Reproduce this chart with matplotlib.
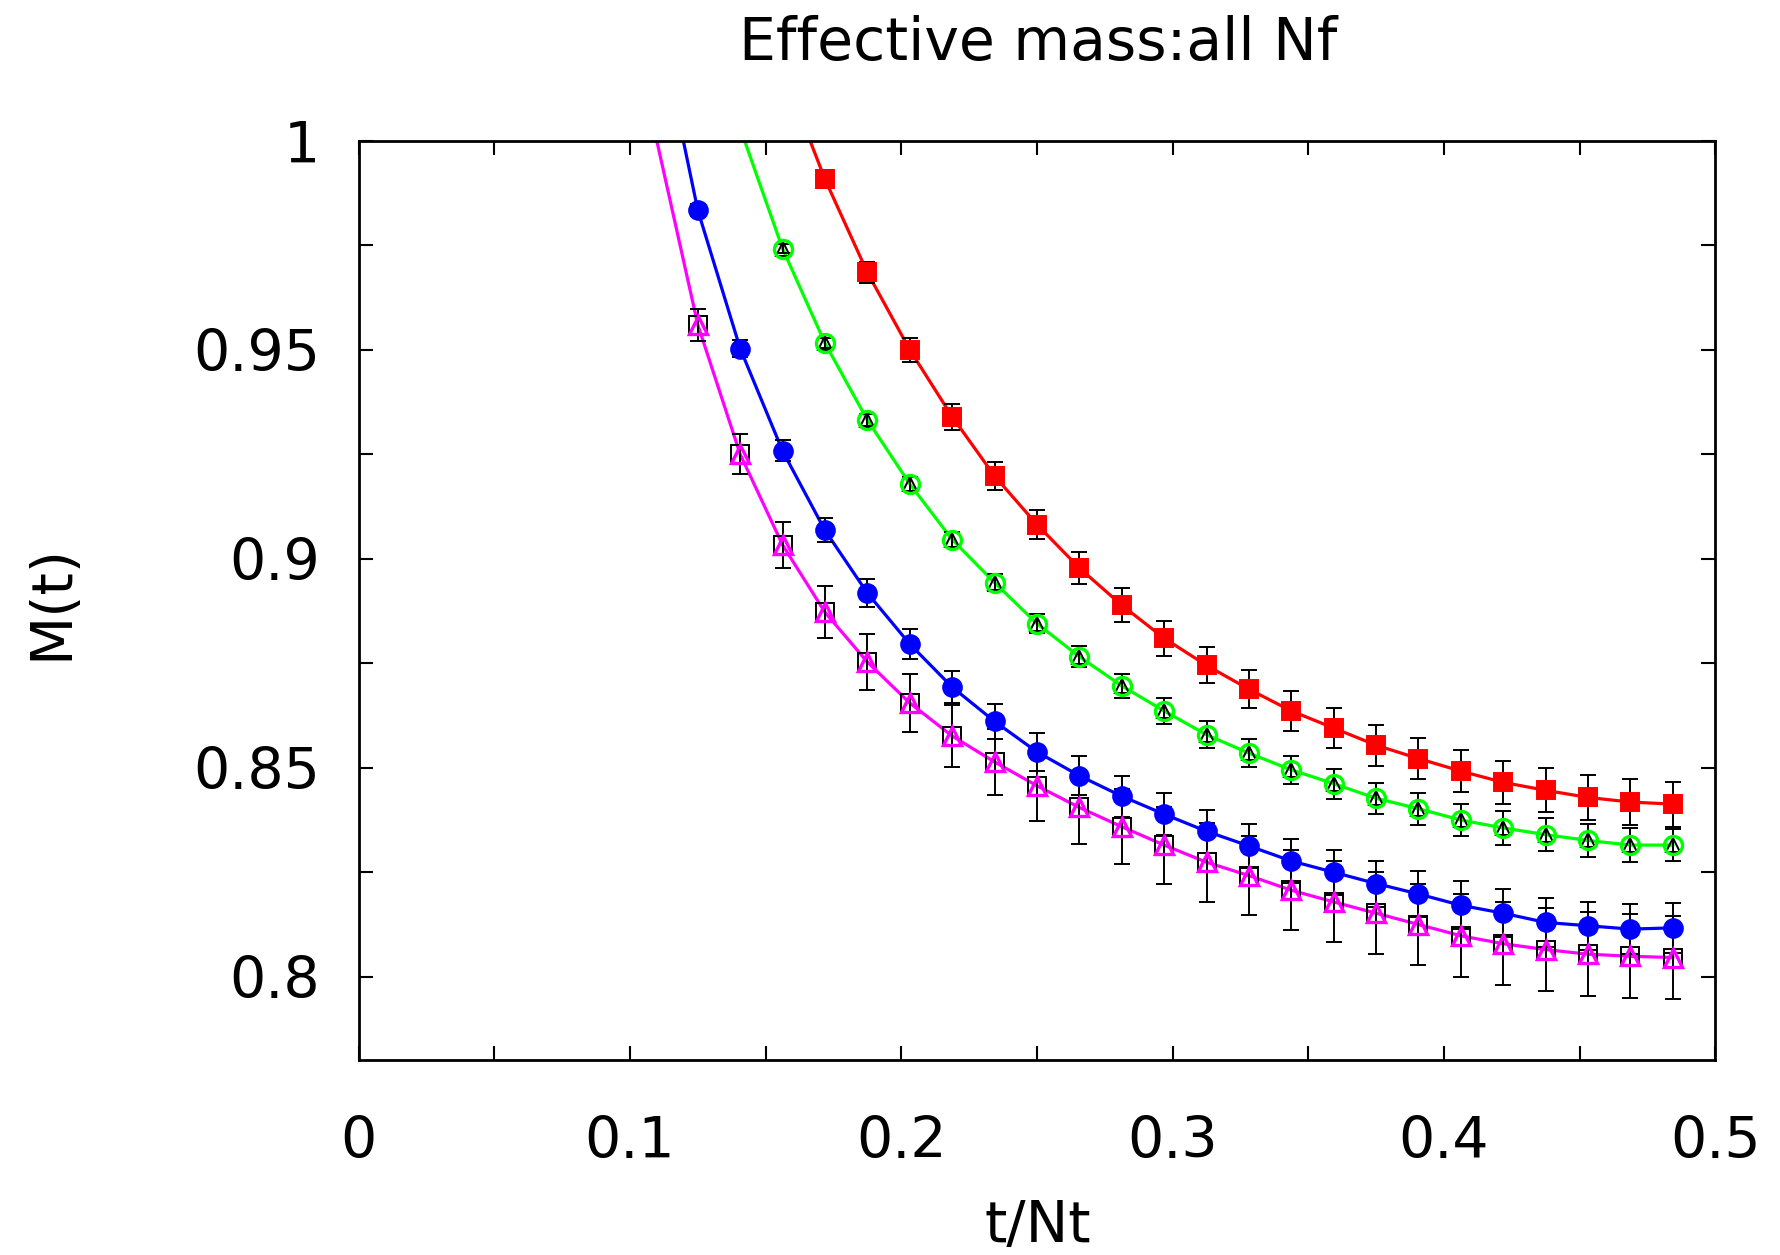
import numpy as np
import matplotlib
matplotlib.use("Agg")
import matplotlib.pyplot as plt
from matplotlib.ticker import MultipleLocator, FixedLocator

plt.rcParams['font.family'] = ['DejaVu Sans']

Nt = 64
# time slices (first entry of each series lies above the plotted range)
t_red = np.arange(10, 32)
t_green = np.arange(9, 32)
t_blue = np.arange(7, 32)
t_mag = np.arange(7, 32)

m_red = [1.017, 0.9908, 0.9685, 0.9500, 0.9340, 0.9198, 0.9082, 0.8978, 0.8889, 0.8810,
         0.8745, 0.8688, 0.8636, 0.8595, 0.8554, 0.8522, 0.8492, 0.8465, 0.8446, 0.8429,
         0.8418, 0.8413]
e_red = [0.0020, 0.0022, 0.0025, 0.0028, 0.0031, 0.0033, 0.0035, 0.0038, 0.0040, 0.0042,
         0.0043, 0.0045, 0.0047, 0.0048, 0.0049, 0.0050, 0.0051, 0.0052, 0.0053, 0.0054,
         0.0054, 0.0054]

m_green = [1.003, 0.9742, 0.9516, 0.9332, 0.9179, 0.9046, 0.8943, 0.8845, 0.8766, 0.8696,
           0.8636, 0.8579, 0.8535, 0.8495, 0.8462, 0.8427, 0.8402, 0.8375, 0.8356, 0.8340,
           0.8326, 0.8315, 0.8315]
e_green = [0.0010, 0.0010, 0.0012, 0.0015, 0.0017, 0.0019, 0.0021, 0.0023, 0.0026, 0.0028,
           0.0031, 0.0032, 0.0033, 0.0034, 0.0036, 0.0037, 0.0038, 0.0039, 0.0040, 0.0040,
           0.0040, 0.0040, 0.0039]

m_blue = [1.032, 0.9834, 0.9503, 0.9258, 0.9068, 0.8918, 0.8796, 0.8693, 0.8611, 0.8538,
          0.8481, 0.8432, 0.8389, 0.8348, 0.8313, 0.8277, 0.8250, 0.8223, 0.8198, 0.8171,
          0.8152, 0.8130, 0.8122, 0.8114, 0.8117]
e_blue = [0.0015, 0.0015, 0.0020, 0.0025, 0.0029, 0.0033, 0.0036, 0.0039, 0.0042, 0.0045,
          0.0047, 0.0049, 0.0051, 0.0052, 0.0052, 0.0053, 0.0054, 0.0055, 0.0056, 0.0057,
          0.0057, 0.0058, 0.0058, 0.0059, 0.0059]

m_mag = [1.0015, 0.9560, 0.9250, 0.9033, 0.8872, 0.8753, 0.8655, 0.8576, 0.8514, 0.8457,
         0.8405, 0.8359, 0.8315, 0.8274, 0.8242, 0.8207, 0.8179, 0.8152, 0.8125, 0.8098,
         0.8079, 0.8065, 0.8054, 0.8049, 0.8046]
e_mag = [0.0035, 0.0038, 0.0048, 0.0056, 0.0062, 0.0066, 0.0070, 0.0073, 0.0078, 0.0085,
         0.0088, 0.0090, 0.0092, 0.0094, 0.0095, 0.0096, 0.0097, 0.0098, 0.0098, 0.0099,
         0.0099, 0.0100, 0.0100, 0.0100, 0.0100]

title = "Effective mass:all Nf"
xlabel = "t/Nt"
ylabel = "M(t)"
xticks = [0, 0.1, 0.2, 0.3, 0.4, 0.5]
xticklabels = ["0", "0.1", "0.2", "0.3", "0.4", "0.5"]
yticks = [0.8, 0.85, 0.9, 0.95, 1.0]
yticklabels = ["0.8", "0.85", "0.9", "0.95", "1"]
YMIN, YMAX = 0.78, 1.0

fig = plt.figure(figsize=(17.8, 12.55), dpi=100)
ax = fig.add_axes([0.2015, 0.1551, 0.9636 - 0.2015, 0.8878 - 0.1551])


def series(t, m, e, color, mk_err, mk_top, err_mfc, top_mfc, top_mec, ms_err, ms_top):
    x = np.asarray(t) / Nt
    m = np.asarray(m)
    e = np.asarray(e)
    ax.plot(x, m, '-', color=color, lw=2.3, zorder=2)
    vis = m <= YMAX
    ax.errorbar(x[vis], m[vis], yerr=e[vis], fmt=mk_err, ms=ms_err, mfc=err_mfc,
                mec='black' if err_mfc == 'none' else err_mfc, mew=1.4,
                ecolor='black', elinewidth=1.4, capsize=6, capthick=1.4, zorder=3)
    if mk_top is not None:
        ax.plot(x[vis], m[vis], mk_top, ms=ms_top, mfc=top_mfc, mec=top_mec, mew=2.4,
                ls='none', zorder=4)


# magenta: black open squares + magenta triangles
series(t_mag, m_mag, e_mag, '#ff00ff', 's', '^', 'none', 'none', '#ff00ff', 12.5, 12.5)
# blue: filled circles
series(t_blue, m_blue, e_blue, '#0000ff', 'o', None, '#0000ff', None, None, 13.5, 0)
# green: black open triangles + green open circles
series(t_green, m_green, e_green, '#00ff00', '^', 'o', 'none', 'none', '#00ff00', 10.5, 13)
# red: filled squares
series(t_red, m_red, e_red, '#ff0000', 's', None, '#ff0000', None, None, 13.5, 0)

ax.set_xlim(0, 0.5)
ax.set_ylim(YMIN, YMAX)
ax.xaxis.set_major_locator(FixedLocator(xticks))
ax.set_xticklabels(xticklabels)
ax.xaxis.set_minor_locator(MultipleLocator(0.05))
ax.yaxis.set_major_locator(FixedLocator(yticks))
ax.set_yticklabels(yticklabels)
ax.yaxis.set_minor_locator(MultipleLocator(0.025))

ax.tick_params(which='both', direction='in', top=True, right=True, length=10, width=1.5)
ax.tick_params(axis='x', which='major', labelsize=41, pad=39)
ax.tick_params(axis='y', which='major', labelsize=41, pad=28)
for s in ax.spines.values():
    s.set_linewidth(2.0)

fig.text(0.5835, 0.965, title, ha='center', va='center', fontsize=42)
fig.text(0.583, 0.023, xlabel, ha='center', va='center', fontsize=41)
fig.text(0.029, 0.52, ylabel, ha='center', va='center', rotation=90, fontsize=41)

fig.savefig("out.png", dpi=100)
